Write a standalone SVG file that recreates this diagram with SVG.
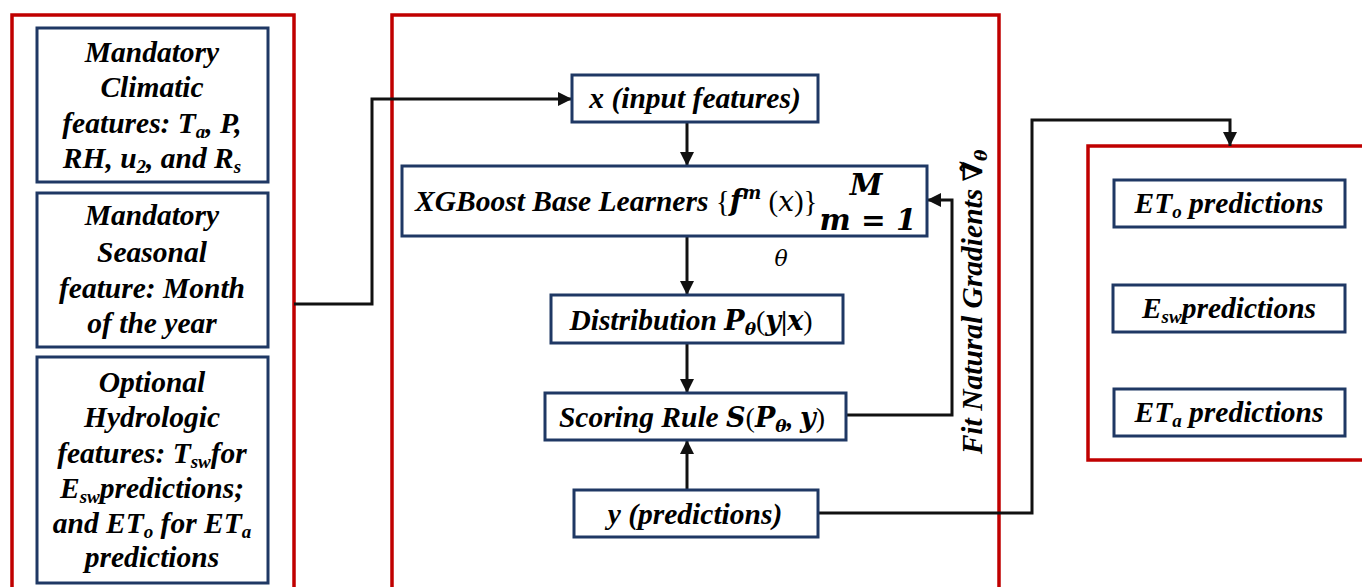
<svg xmlns="http://www.w3.org/2000/svg" width="1362" height="587" viewBox="0 0 1362 587">
<style>
.red{fill:none;stroke:#C00000;stroke-width:3.5}
.blue{fill:#fff;stroke:#1F3864;stroke-width:3}
.t{font-family:'Liberation Serif','DejaVu Serif',serif;font-weight:bold;font-style:italic;font-size:29.5px;text-anchor:middle;fill:#000}
.m{font-family:'DejaVu Serif',serif}
.sub{font-size:19px}
.conn{fill:none;stroke:#111;stroke-width:3}
</style>
<defs>
<marker id="arr" viewBox="0 0 10 10" refX="10" refY="5" markerWidth="15" markerHeight="14" markerUnits="userSpaceOnUse" orient="auto">
<path d="M0,0 L10,5 L0,10 z" fill="#111"/>
</marker>
</defs>
<rect width="1362" height="587" fill="#fff"/>

<g id="frame-inputs"><rect class="red" x="12" y="15" width="282" height="600"/></g>
<g id="frame-model"><rect class="red" x="392" y="15" width="607" height="600"/></g>
<g id="frame-outputs"><rect class="red" x="1088" y="146" width="290" height="314"/></g>

<g id="connectors">
<path class="conn" d="M294,304 H372 V99 H572" marker-end="url(#arr)"/>
<path class="conn" d="M687,122 V166" marker-end="url(#arr)"/>
<path class="conn" d="M687,236 V295" marker-end="url(#arr)"/>
<path class="conn" d="M687,343 V393" marker-end="url(#arr)"/>
<path class="conn" d="M687,490 V440" marker-end="url(#arr)"/>
<path class="conn" d="M846,415 H952 V200 H927" marker-end="url(#arr)"/>
<path class="conn" d="M818,513 H1032 V120 H1230 V146" marker-end="url(#arr)"/>
</g>

<g id="climatic">
<rect class="blue" x="37" y="28" width="231" height="154"/>
<text class="t" x="152" y="62">Mandatory</text>
<text class="t" x="152" y="97">Climatic</text>
<text class="t" x="152" y="133">features: T<tspan class="sub" dy="5">a</tspan><tspan dy="-5">, P,</tspan></text>
<text class="t" x="152" y="168">RH, u<tspan class="sub" dy="5">2</tspan><tspan dy="-5">, and R</tspan><tspan class="sub" dy="5">s</tspan></text>
</g>

<g id="seasonal">
<rect class="blue" x="37" y="193" width="231" height="154"/>
<text class="t" x="152" y="225">Mandatory</text>
<text class="t" x="152" y="262">Seasonal</text>
<text class="t" x="152" y="298">feature: Month</text>
<text class="t" x="152" y="333">of the year</text>
</g>

<g id="hydrologic">
<rect class="blue" x="37" y="357" width="231" height="226"/>
<text class="t" x="152" y="392">Optional</text>
<text class="t" x="152" y="427">Hydrologic</text>
<text class="t" x="152" y="463">features: T<tspan class="sub" dy="5">sw</tspan><tspan dy="-5">for</tspan></text>
<text class="t" x="152" y="498">E<tspan class="sub" dy="5">sw</tspan><tspan dy="-5">predictions;</tspan></text>
<text class="t" x="152" y="533">and ET<tspan class="sub" dy="5">o</tspan><tspan dy="-5"> for ET</tspan><tspan class="sub" dy="5">a</tspan></text>
<text class="t" x="152" y="567">predictions</text>
</g>

<g id="input-x">
<rect class="blue" x="572" y="75" width="246" height="47"/>
<text class="t" x="695" y="108" font-size="28">x (input features)</text>
</g>

<g id="xgboost">
<rect class="blue" x="402" y="166" width="525" height="70"/>
<text class="t" x="415" y="211" style="text-anchor:start">XGBoost Base Learners <tspan font-style="normal" font-weight="normal" font-size="29">{</tspan><tspan class="m" font-size="29">f</tspan><tspan class="m" font-size="18" dy="-12">m</tspan><tspan dy="12" font-style="normal" font-weight="normal" font-size="29"> (</tspan><tspan class="m" font-weight="normal" font-size="28">x</tspan><tspan font-style="normal" font-weight="normal" font-size="29">)}</tspan></text>
<text class="t m" x="866" y="195" font-size="19">M</text>
<text class="t m" x="868" y="230" font-size="24" font-style="normal">m = 1</text>
</g>

<text x="781" y="266" font-family="'DejaVu Serif',serif" font-style="italic" font-size="22" text-anchor="middle" fill="#000">θ</text>

<g id="distribution">
<rect class="blue" x="551" y="295" width="292" height="48"/>
<text class="t" x="691" y="330">Distribution <tspan class="m" font-size="27">P</tspan><tspan class="m" font-size="17" dy="5">θ</tspan><tspan dy="-5" font-style="normal" font-weight="normal" font-size="28">(</tspan><tspan class="m" font-size="27">y</tspan><tspan font-style="normal" font-size="28">|</tspan><tspan class="m" font-size="27">x</tspan><tspan font-style="normal" font-weight="normal" font-size="28">)</tspan></text>
</g>

<g id="scoring">
<rect class="blue" x="545" y="393" width="301" height="47"/>
<text class="t" x="692" y="427">Scoring Rule <tspan class="m" font-size="27">S</tspan><tspan font-style="normal" font-weight="normal" font-size="28">(</tspan><tspan class="m" font-size="27">P</tspan><tspan class="m" font-size="17" dy="5">θ</tspan><tspan dy="-5" font-size="27">, </tspan><tspan class="m" font-size="27">y</tspan><tspan font-style="normal" font-weight="normal" font-size="28">)</tspan></text>
</g>

<g id="output-y">
<rect class="blue" x="574" y="490" width="244" height="47"/>
<text class="t" x="695" y="524">y (predictions)</text>
</g>

<text class="t" transform="translate(982,302) rotate(-90)">Fit Natural Gradients <tspan class="m" font-size="27">∇̃</tspan><tspan class="m" font-size="17" dy="5">θ</tspan></text>

<g id="eto">
<rect class="blue" x="1114" y="180" width="231" height="47"/>
<text class="t" x="1229" y="213">ET<tspan class="sub" dy="5">o</tspan><tspan dy="-5"> predictions</tspan></text>
</g>

<g id="esw">
<rect class="blue" x="1113" y="285" width="232" height="47"/>
<text class="t" x="1229" y="318">E<tspan class="sub" dy="5">sw</tspan><tspan dy="-5">predictions</tspan></text>
</g>

<g id="eta">
<rect class="blue" x="1114" y="389" width="231" height="47"/>
<text class="t" x="1229" y="422">ET<tspan class="sub" dy="5">a</tspan><tspan dy="-5"> predictions</tspan></text>
</g>
</svg>
